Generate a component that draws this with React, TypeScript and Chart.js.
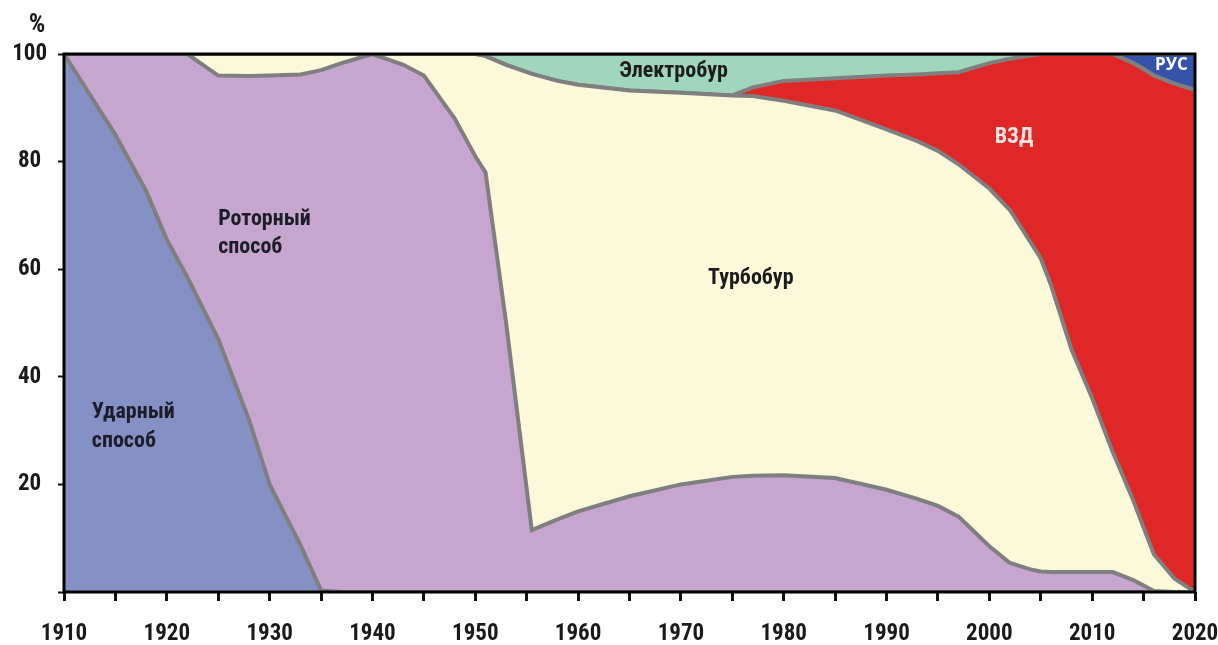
import { useEffect, useRef } from "react";
import { Chart, registerables } from "chart.js";

Chart.register(...registerables);

// Years (x positions of the data points)
const years = [
  1910, 1912, 1915, 1918, 1920, 1922, 1925, 1928, 1930, 1933, 1935, 1937, 1940, 1943, 1945,
  1948, 1950, 1951, 1953, 1955.5, 1958, 1960, 1965, 1970, 1975, 1977, 1980, 1985, 1990, 1993,
  1995, 1997, 2000, 2002, 2004, 2005, 2006, 2008, 2010, 2012, 2014, 2015, 2016, 2018, 2020,
];

// Shares of each drilling method, %
const udarny = [
  100, 94, 85, 74.5, 65.5, 58.5, 47, 32, 20, 8.7, 0.3, 0, 0, 0, 0,
  0, 0, 0, 0, 0, 0, 0, 0, 0, 0, 0, 0, 0, 0, 0,
  0, 0, 0, 0, 0, 0, 0, 0, 0, 0, 0, 0, 0, 0, 0,
];
const rotorny = [
  0, 6, 15, 25.5, 34.5, 41.5, 49, 63.9, 76, 87.5, 96.7, 98.3, 100, 98, 96,
  88, 81, 78, 50, 11.5, 13.5, 15, 17.8, 20, 21.4, 21.6, 21.7, 21.2, 19, 17.3,
  16, 14, 8.5, 5.4, 4.2, 3.8, 3.7, 3.7, 3.7, 3.7, 2.2, 1.2, 0.2, 0, 0,
];
const turbobur = [
  0, 0, 0, 0, 0, 0, 4, 4.1, 4, 3.8, 3, 1.7, 0, 2, 4,
  12, 19, 21.6, 48, 84.8, 81.5, 79.3, 75.4, 72.8, 70.9, 70.6, 69.6, 68.3, 67, 66.5,
  66, 65.5, 66.5, 65.6, 60.8, 58.2, 53.3, 41.3, 32.3, 22.3, 14.8, 10.8, 6.8, 2.5, 0,
];
const vzd = [
  0, 0, 0, 0, 0, 0, 0, 0, 0, 0, 0, 0, 0, 0, 0,
  0, 0, 0, 0, 0, 0, 0, 0, 0, 0, 1.6, 3.7, 6, 10, 12.4,
  14.4, 17.1, 23.3, 28.1, 34.7, 38, 43, 55, 64, 74, 81.3, 85.2, 89, 92, 93.3,
];
const elektrobur = [
  0, 0, 0, 0, 0, 0, 0, 0, 0, 0, 0, 0, 0, 0, 0,
  0, 0, 0.4, 2, 3.7, 5, 5.7, 6.8, 7.2, 7.7, 6.2, 5, 4.5, 4, 3.8,
  3.6, 3.4, 1.7, 0.9, 0.3, 0, 0, 0, 0, 0, 0, 0, 0, 0, 0,
];
const rus = [
  0, 0, 0, 0, 0, 0, 0, 0, 0, 0, 0, 0, 0, 0, 0,
  0, 0, 0, 0, 0, 0, 0, 0, 0, 0, 0, 0, 0, 0, 0,
  0, 0, 0, 0, 0, 0, 0, 0, 0, 0, 1.7, 2.8, 4, 5.5, 6.7,
];

const seriesNames = ["Ударный способ", "Роторный способ", "Турбобур", "ВЗД", "Электробур", "РУС"];
const seriesValues = [udarny, rotorny, turbobur, vzd, elektrobur, rus];
const seriesColors = ["#8590c4", "#c6a5ce", "#fbf9d9", "#e02727", "#9fd6bc", "#3553a8"];

// Tick labels
const xTickLabels = ["1910", "1920", "1930", "1940", "1950", "1960", "1970", "1980", "1990", "2000", "2010", "2020"];
const yTickLabels = ["20", "40", "60", "80", "100"];

// In-chart labels (text anchored in data coordinates)
const areaLabels = [
  { lines: ["Ударный", "способ"], x: 1912.7, y: [33.3, 28], align: "left", color: "#1c1c2a", big: true },
  { lines: ["Роторный", "способ"], x: 1925.0, y: [69.3, 64], align: "left", color: "#1c1c2a", big: true },
  { lines: ["Турбобур"], x: 1976.8, y: [58.3], align: "center", color: "#1c1c1c", big: true },
  { lines: ["Электробур"], x: 1969.3, y: [96.8], align: "center", color: "#1c1c1c", big: true },
  { lines: ["ВЗД"], x: 2002.4, y: [84.5], align: "center", color: "#f6e2e0", big: true },
  { lines: ["РУС"], x: 2017.7, y: [97.9], align: "center", color: "#ffffff", big: false },
];

const FONT =
  '"Liberation Sans Narrow", "Arial Narrow", "Roboto Condensed", "DejaVu Sans Condensed", "Liberation Sans", Arial, sans-serif';

const overlayPlugin = {
  id: "overlay",
  afterDatasetsDraw(chart: any) {
    const { ctx, chartArea, scales } = chart;
    const xs = scales.x;
    const ys = scales.y;
    ctx.save();
    // frame
    ctx.strokeStyle = "#000";
    ctx.lineWidth = 3;
    ctx.strokeRect(chartArea.left, chartArea.top, chartArea.right - chartArea.left, chartArea.bottom - chartArea.top);
    // labels
    ctx.textBaseline = "middle";
    for (const l of areaLabels) {
      ctx.font = l.big ? `bold 22px ${FONT}` : 'bold 17px "Open Sans", "Liberation Sans", sans-serif';
      ctx.fillStyle = l.color;
      ctx.textAlign = l.align as CanvasTextAlign;
      l.lines.forEach((t, i) => {
        ctx.fillText(t, xs.getPixelForValue(l.x), ys.getPixelForValue(l.y[i]));
      });
    }
    // % unit
    ctx.font = `bold 26px ${FONT}`;
    ctx.fillStyle = "#1a1a1a";
    ctx.textAlign = "center";
    ctx.fillText("%", 37, 25);
    ctx.restore();
  },
};

export default function App() {
  const ref = useRef<HTMLCanvasElement | null>(null);

  useEffect(() => {
    if (!ref.current) return;
    const datasets = seriesValues.map((vals, k) => ({
      label: seriesNames[k],
      data: years.map((x, i) => ({ x, y: vals[i] })),
      backgroundColor: seriesColors[k],
      borderColor: "#7f7f7f",
      borderWidth: 4,
      fill: k === 0 ? "origin" : "-1",
      pointRadius: 0,
      tension: 0,
    }));

    const chart = new Chart(ref.current, {
      type: "line",
      data: { datasets },
      plugins: [overlayPlugin],
      options: {
        animation: false,
        responsive: false,
        layout: { padding: { left: 0, right: 23, top: 54, bottom: 0 } },
        plugins: { legend: { display: false }, tooltip: { enabled: false } },
        scales: {
          x: {
            type: "linear",
            min: 1910,
            max: 2020,
            afterFit: (s: any) => {
              s.height = 53;
              s.paddingLeft = 0;
              s.paddingRight = 0;
            },
            afterBuildTicks: (s: any) => {
              const t = [];
              for (let v = 1910; v <= 2020; v += 5) t.push({ value: v });
              s.ticks = t;
            },
            grid: { drawOnChartArea: false, drawTicks: true, tickLength: 9, tickWidth: 3, tickColor: "#111" },
            border: { display: false },
            ticks: {
              autoSkip: false,
              maxRotation: 0,
              padding: 19,
              color: "#1a1a1a",
              font: { family: FONT, size: 23, weight: "bold" },
              callback: (v: any) => {
                const s = String(v);
                return xTickLabels.includes(s) ? s : "";
              },
            },
          },
          y: {
            stacked: true,
            min: 0,
            max: 100,
            afterFit: (s: any) => {
              s.width = 64;
              s.paddingTop = 0;
              s.paddingBottom = 0;
            },
            grid: { drawOnChartArea: false, drawTicks: true, tickLength: 6, tickWidth: 2, tickColor: "#111" },
            border: { display: false },
            ticks: {
              stepSize: 20,
              padding: 11,
              crossAlign: "center",
              color: "#1a1a1a",
              font: { family: FONT, size: 23, weight: "bold" },
              callback: (v: any) => {
                const s = String(v);
                return yTickLabels.includes(s) ? s : "";
              },
            },
          },
        },
      } as any,
    });
    return () => chart.destroy();
  }, []);

  return (
    <div style={{ position: "absolute", left: 0, top: 0, width: 1218, height: 645, background: "#fff" }}>
      <canvas ref={ref} width={1218} height={645} style={{ display: "block" }} />
    </div>
  );
}
